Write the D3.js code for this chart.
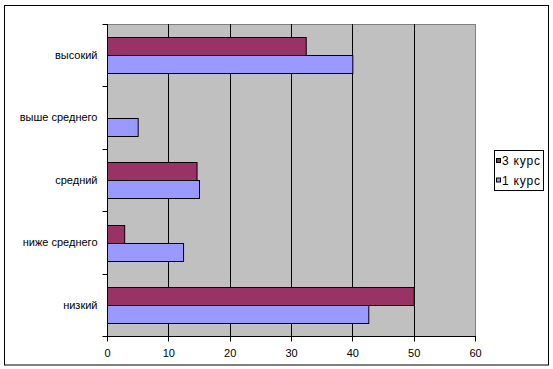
<!DOCTYPE html>
<html>
<head>
<meta charset="utf-8">
<script src="https://cdn.jsdelivr.net/npm/d3@7"></script>
<style>
  body { margin: 0; background: #fff; }
  text { font-family: Arial, "Liberation Sans", sans-serif; }
</style>
</head>
<body>
<div id="chart"></div>
<script>
// data
let categories = ["высокий", "выше среднего", "средний", "ниже среднего", "низкий"];
let series3 = [32.4, 0, 14.6, 2.8, 50];   // 3 курс
let series1 = [40, 5, 15, 12.4, 42.6];    // 1 курс
let seriesNames = ["3 курс", "1 курс"];
let xTicks = [0, 10, 20, 30, 40, 50, 60];

let svg = d3.select("#chart").append("svg")
    .attr("width", 553)
    .attr("height", 369);

// outer frame
svg.append("rect")
    .attr("x", 4.5).attr("y", 5.5)
    .attr("width", 544).attr("height", 359.5)
    .attr("fill", "white").attr("stroke", "black").attr("stroke-width", 1);

let plotL = 107, plotR = 475, plotT = 24, plotB = 336;

let x = d3.scaleLinear().domain([0, 60]).range([plotL, plotR]);
let y = d3.scaleBand().domain(categories).range([plotT, plotB]);
// gap width 150% -> bar = band / 3.5
let barH = y.bandwidth() / 3.5;
let pad = (y.bandwidth() - 2 * barH) / 2;

// plot area
svg.append("rect")
    .attr("x", plotL + 0.5).attr("y", plotT + 0.5)
    .attr("width", plotR - plotL).attr("height", plotB - plotT)
    .attr("fill", "#c0c0c0").attr("stroke", "#808080");

// gridlines
svg.selectAll(".grid").data(xTicks.slice(1, -1)).enter().append("line")
    .attr("class", "grid")
    .attr("x1", d => Math.round(x(d)) + 0.5).attr("x2", d => Math.round(x(d)) + 0.5)
    .attr("y1", plotT).attr("y2", plotB)
    .attr("stroke", "black");

let groups = svg.selectAll(".cat").data(categories).enter().append("g")
    .attr("class", "cat");

groups.append("rect")
    .attr("x", x(0) + 0.5)
    .attr("y", d => Math.round(y(d) + pad) + 0.5)
    .attr("width", (d, i) => x(series3[i]) - x(0))
    .attr("height", Math.round(barH))
    .attr("fill", "#993366").attr("stroke", "black")
    .style("display", (d, i) => series3[i] > 0 ? null : "none");

groups.append("rect")
    .attr("x", x(0) + 0.5)
    .attr("y", d => Math.round(y(d) + pad) + 0.5 + Math.round(barH))
    .attr("width", (d, i) => x(series1[i]) - x(0))
    .attr("height", Math.round(barH))
    .attr("fill", "#9999ff").attr("stroke", "black");

// y axis
let yAxis = svg.append("g").attr("transform", "translate(" + (plotL + 0.5) + ",0)");
yAxis.append("line").attr("x1", 0).attr("x2", 0).attr("y1", plotT).attr("y2", plotB + 0.5).attr("stroke", "black");
let yTickPos = categories.map(d => y(d)).concat([plotB]);
yAxis.selectAll(".ytick").data(yTickPos).enter().append("line")
    .attr("x1", -5).attr("x2", 0)
    .attr("y1", d => Math.round(d) + 0.5).attr("y2", d => Math.round(d) + 0.5)
    .attr("stroke", "black");
yAxis.selectAll(".ylab").data(categories).enter().append("text")
    .attr("x", -10)
    .attr("y", d => y(d) + y.bandwidth() / 2)
    .attr("dy", "0.35em")
    .attr("text-anchor", "end")
    .attr("font-size", 11)
    .text(d => d);

// x axis
let xAxis = svg.append("g").attr("transform", "translate(0," + (plotB + 0.5) + ")");
xAxis.append("line").attr("x1", plotL).attr("x2", plotR + 1).attr("y1", 0).attr("y2", 0).attr("stroke", "black");
xAxis.selectAll(".xtick").data(xTicks).enter().append("line")
    .attr("x1", d => Math.round(x(d)) + 0.5).attr("x2", d => Math.round(x(d)) + 0.5)
    .attr("y1", 0).attr("y2", 5)
    .attr("stroke", "black");
xAxis.selectAll(".xlab").data(xTicks).enter().append("text")
    .attr("x", d => x(d) + 0.5)
    .attr("y", 17)
    .attr("dy", "0.35em")
    .attr("text-anchor", "middle")
    .attr("font-size", 11)
    .text(d => d);

// legend
let legend = svg.append("g");
legend.append("rect")
    .attr("x", 494.5).attr("y", 150.5).attr("width", 49).attr("height", 40)
    .attr("fill", "white").attr("stroke", "black");
let legendColors = ["#993366", "#9999ff"];
let li = legend.selectAll(".li").data(seriesNames).enter().append("g")
    .attr("transform", (d, i) => "translate(496," + (161 + i * 19.5) + ")");
li.append("rect")
    .attr("x", 0.5).attr("y", -2.5).attr("width", 4).attr("height", 4)
    .attr("fill", (d, i) => legendColors[i]).attr("stroke", "black");
li.append("text")
    .attr("x", 6).attr("y", 0).attr("dy", "0.35em")
    .attr("font-size", 12)
    .attr("letter-spacing", 0.8)
    .text(d => d);
</script>
</body>
</html>
